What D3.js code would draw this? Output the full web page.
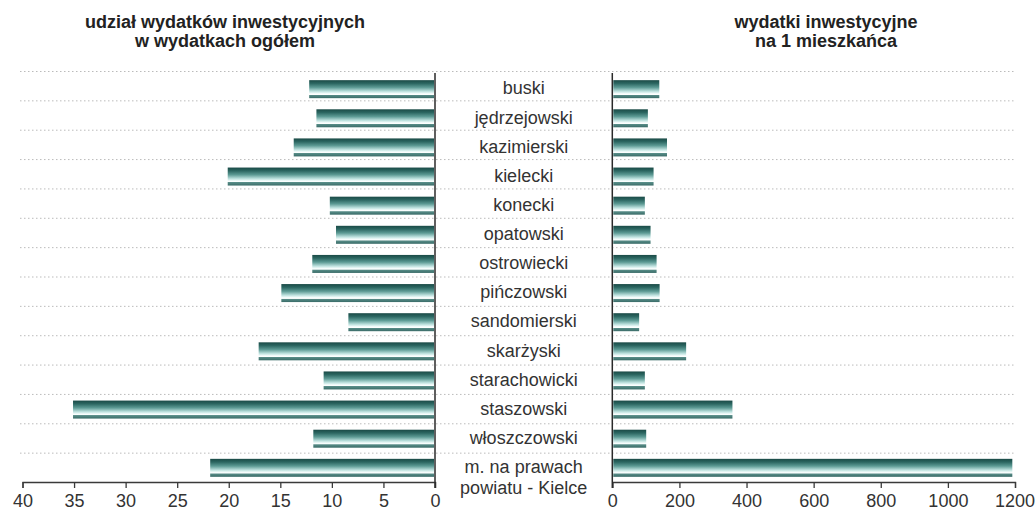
<!DOCTYPE html>
<html>
<head>
<meta charset="utf-8">
<script src="https://cdn.jsdelivr.net/npm/d3@7"></script>
<style>
  body { margin: 0; background: #fff; }
  svg { display: block; font-family: "Liberation Sans", Arial, sans-serif; }
</style>
</head>
<body>
<div id="chart"></div>
<script>
// powiaty
var categories = ["buski", "jędrzejowski", "kazimierski", "kielecki", "konecki", "opatowski",
  "ostrowiecki", "pińczowski", "sandomierski", "skarżyski", "starachowicki", "staszowski",
  "włoszczowski", "m. na prawach|powiatu - Kielce"];

// udział wydatków inwestycyjnych w wydatkach ogółem (%)
var shareValues = [12.2, 11.5, 13.7, 20.1, 10.2, 9.6, 11.9, 14.9, 8.4, 17.1, 10.8, 35.1, 11.8, 21.8];

// wydatki inwestycyjne na 1 mieszkańca (zł)
var perCapitaValues = [140, 106, 163, 123, 97, 114, 132, 141, 80, 220, 97, 358, 101, 1192];

var shareTicks = [40, 35, 30, 25, 20, 15, 10, 5, 0];
var perCapitaTicks = [0, 200, 400, 600, 800, 1000, 1200];

var titleLeft = ["udział wydatków inwestycyjnych", "w wydatkach ogółem"];
var titleRight = ["wydatki inwestycyjne", "na 1 mieszkańca"];

var W = 1035, H = 511;
var axisY = 482;

var svg = d3.select("#chart").append("svg")
  .attr("width", W).attr("height", H);

// bar gradient (cylinder-like teal)
var grad = svg.append("defs").append("linearGradient")
  .attr("id", "barGrad").attr("x1", 0).attr("y1", 0).attr("x2", 0).attr("y2", 1);
[[0, "#1a4a46"], [0.18, "#2b6661"], [0.4, "#5c9a94"], [0.62, "#bde1de"],
 [0.74, "#f2fcfb"], [0.8, "#ffffff"], [0.83, "#588d88"], [1, "#3a6c68"]]
  .forEach(function(s) { grad.append("stop").attr("offset", s[0]).attr("stop-color", s[1]); });

var xLeft = d3.scaleLinear().domain([0, 40]).range([435, 22.5]);
var xRight = d3.scaleLinear().domain([0, 1200]).range([612.3, 1015]);

var yGrid = d3.scaleBand().domain(categories).range([71, axisY]);
var yBar = d3.scaleBand().domain(categories).range([74.6, 482.4]);
var barH = 18;

// gridlines
var gridYs = categories.map(function(c) { return yGrid(c); });
svg.append("g").selectAll("line").data(gridYs).enter().append("line")
  .attr("x1", 20).attr("x2", 1015)
  .attr("y1", function(d) { return d + 0.5; }).attr("y2", function(d) { return d + 0.5; })
  .attr("stroke", "#bbbbbb").attr("stroke-width", 1)
  .attr("stroke-dasharray", "1.5,2.5");

// left bars
svg.append("g").selectAll("rect").data(shareValues).enter().append("rect")
  .attr("x", function(d) { return xLeft(d); })
  .attr("width", function(d) { return xLeft(0) - xLeft(d) - 1; })
  .attr("y", function(d, i) { return yBar(categories[i]) + yBar.bandwidth() / 2 - barH / 2; })
  .attr("height", barH)
  .attr("fill", "url(#barGrad)");

// right bars
svg.append("g").selectAll("rect").data(perCapitaValues).enter().append("rect")
  .attr("x", xRight(0) + 1)
  .attr("width", function(d) { return xRight(d) - xRight(0) - 1; })
  .attr("y", function(d, i) { return yBar(categories[i]) + yBar.bandwidth() / 2 - barH / 2; })
  .attr("height", barH)
  .attr("fill", "url(#barGrad)");

// axes
var fmt = d3.format("d");
var axL = svg.append("g").attr("transform", "translate(0," + axisY + ")")
  .call(d3.axisBottom(xLeft).tickValues(shareTicks).tickFormat(fmt).tickSize(6).tickPadding(6));
var axR = svg.append("g").attr("transform", "translate(0," + axisY + ")")
  .call(d3.axisBottom(xRight).tickValues(perCapitaTicks).tickFormat(fmt).tickSize(6).tickPadding(6));
[axL, axR].forEach(function(ax) {
  ax.select(".domain").attr("stroke", "#3a3a3a").attr("stroke-width", 1.3);
  ax.selectAll(".tick line").attr("stroke", "#3a3a3a").attr("stroke-width", 1.3);
  ax.selectAll(".tick text").attr("fill", "#333").attr("font-size", 18)
    .attr("font-family", "'Liberation Sans', Arial, sans-serif");
});
// keep the last label inside the picture
axR.selectAll(".tick text").filter(function(d) { return d === 1200; })
  .attr("text-anchor", "end").attr("dx", 19.5);

// vertical baselines
[xLeft(0), xRight(0)].forEach(function(x) {
  svg.append("line").attr("x1", x).attr("x2", x).attr("y1", 73).attr("y2", axisY + 6)
    .attr("stroke", "#2a2a2a").attr("stroke-width", 1.5);
});

// category labels
var midX = (xLeft(0) + xRight(0)) / 2;
var lab = svg.append("g").selectAll("text").data(categories).enter().append("text")
  .attr("x", midX)
  .attr("y", function(c) { return yBar(c) + yBar.bandwidth() / 2 - 1; })
  .attr("text-anchor", "middle").attr("font-size", 18).attr("fill", "#333");
lab.each(function(c) {
  var parts = c.split("|");
  var t = d3.select(this);
  parts.forEach(function(p, k) {
    t.append("tspan").attr("x", midX).attr("dy", k === 0 ? "0.35em" : "1.17em").text(p);
  });
});

// titles
function title(lines, cx) {
  var t = svg.append("text").attr("x", cx).attr("y", 28)
    .attr("text-anchor", "middle").attr("font-size", 18).attr("font-weight", "bold")
    .attr("fill", "#222");
  lines.forEach(function(l, k) {
    t.append("tspan").attr("x", cx).attr("dy", k === 0 ? 0 : 19).text(l);
  });
}
title(titleLeft, 225);
title(titleRight, 826);
</script>
</body>
</html>
